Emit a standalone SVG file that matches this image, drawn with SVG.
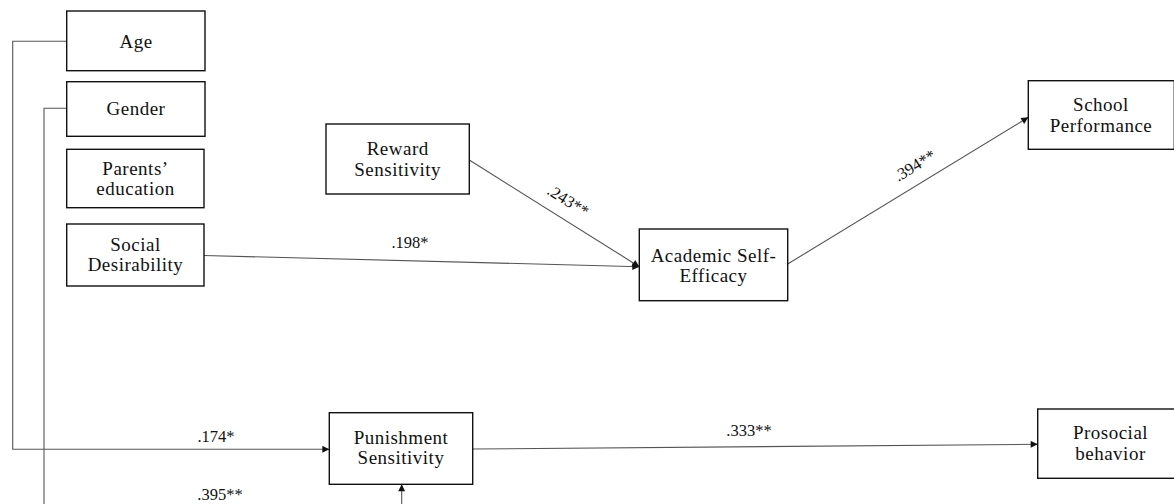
<svg xmlns="http://www.w3.org/2000/svg" width="1174" height="504" viewBox="0 0 1174 504">
<style>
.box{fill:#fff;stroke:#111;stroke-width:1.4}
.nt{font-family:"Liberation Serif","Times New Roman",serif;font-size:19px;fill:#111;text-anchor:middle;letter-spacing:0.5px}
.lb{font-family:"Liberation Serif","Times New Roman",serif;font-size:16.5px;fill:#111;text-anchor:middle}
.ln{fill:none;stroke:#555;stroke-width:1.1}
</style>
<defs>
<marker id="ah" viewBox="0 0 10 10" refX="10" refY="5" markerWidth="9" markerHeight="7" markerUnits="userSpaceOnUse" orient="auto">
<path d="M0,0 L10,5 L0,10 Z" fill="#111"/>
</marker>
</defs>
<rect width="1174" height="504" fill="#fff"/>
<g id="connectors">
<polyline class="ln" points="66.7,41.3 12.7,41.3 12.7,449.3 329.3,449.3" marker-end="url(#ah)"/>
<polyline class="ln" points="66.7,108.3 44,108.3 44,504"/>
<line class="ln" x1="401.7" y1="504" x2="401.7" y2="484.3" marker-end="url(#ah)"/>
<line class="ln" x1="204" y1="255.5" x2="639.3" y2="266.7" marker-end="url(#ah)"/>
<line class="ln" x1="469.3" y1="160" x2="639.3" y2="266.7" marker-end="url(#ah)"/>
<line class="ln" x1="787.7" y1="264" x2="1028.3" y2="117.3" marker-end="url(#ah)"/>
<line class="ln" x1="472.7" y1="449" x2="1037.7" y2="444.3" marker-end="url(#ah)"/>
<text class="lb" x="216" y="442">.174*</text>
<text class="lb" x="220" y="500">.395**</text>
<text class="lb" x="410" y="248">.198*</text>
<text class="lb" x="749" y="436">.333**</text>
<text class="lb" transform="translate(568,201) rotate(32)" y="5">.243**</text>
<text class="lb" transform="translate(915,166) rotate(-31.4)" y="5">.394**</text>
</g>
<g id="age">
<rect class="box" x="66.7" y="11" width="138.3" height="59.7"/>
<text class="nt" x="136" y="47.5">Age</text>
</g>
<g id="gender">
<rect class="box" x="66.7" y="81.7" width="138.3" height="54.6"/>
<text class="nt" x="136" y="115">Gender</text>
</g>
<g id="parents-education">
<rect class="box" x="66.7" y="149.3" width="137.3" height="58.4"/>
<text class="nt" x="135.5" y="174.5">Parents’</text>
<text class="nt" x="135.5" y="195">education</text>
</g>
<g id="social-desirability">
<rect class="box" x="66.7" y="224" width="137.3" height="62"/>
<text class="nt" x="135.5" y="251">Social</text>
<text class="nt" x="135.5" y="271">Desirability</text>
</g>
<g id="reward-sensitivity">
<rect class="box" x="326" y="124" width="143.3" height="70"/>
<text class="nt" x="397.7" y="155">Reward</text>
<text class="nt" x="397.7" y="176">Sensitivity</text>
</g>
<g id="academic-self-efficacy">
<rect class="box" x="639.3" y="229" width="148.4" height="71.7"/>
<text class="nt" x="713.5" y="261.5">Academic Self-</text>
<text class="nt" x="713.5" y="281.5">Efficacy</text>
</g>
<g id="punishment-sensitivity">
<rect class="box" x="329.3" y="412.7" width="143.4" height="71.6"/>
<text class="nt" x="401" y="444">Punishment</text>
<text class="nt" x="401" y="464">Sensitivity</text>
</g>
<g id="school-performance">
<rect class="box" x="1028.3" y="80.7" width="146" height="68.6"/>
<text class="nt" x="1101" y="111">School</text>
<text class="nt" x="1101" y="132">Performance</text>
</g>
<g id="prosocial-behavior">
<rect class="box" x="1037.7" y="409" width="146" height="69.3"/>
<text class="nt" x="1110.5" y="439">Prosocial</text>
<text class="nt" x="1110.5" y="460">behavior</text>
</g>
</svg>
